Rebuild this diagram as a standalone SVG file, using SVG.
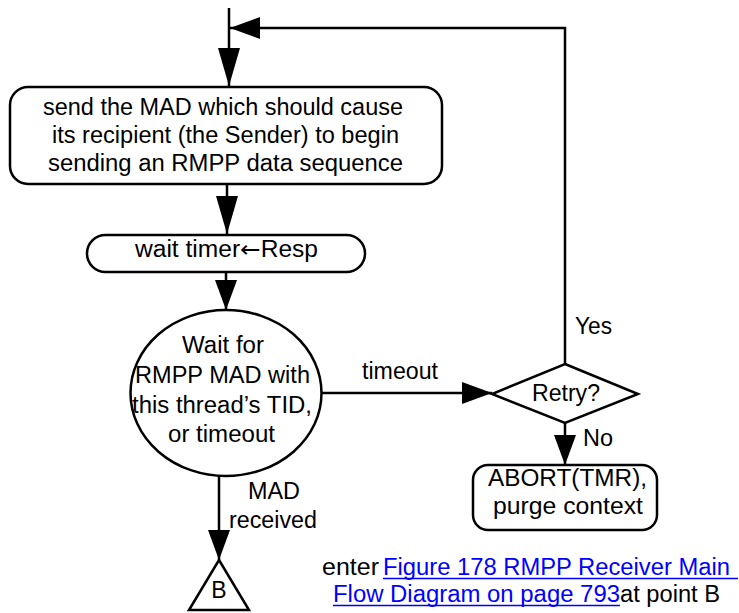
<svg xmlns="http://www.w3.org/2000/svg" width="739" height="613" viewBox="0 0 739 613">
<style>
.shape{fill:#fff;stroke:#000;stroke-width:2.5}
.conn{fill:none;stroke:#000;stroke-width:2.5}
text{font-family:"Liberation Sans",Arial,sans-serif;font-size:23px;fill:#000}
.sym{font-family:"DejaVu Sans",sans-serif}
.link{fill:#0000ff}
.ul{stroke:#0000ff;stroke-width:1.5}
</style>
<defs>
<marker id="ah" viewBox="0 0 30 22" refX="30" refY="11" markerWidth="30" markerHeight="22" markerUnits="userSpaceOnUse" orient="auto">
<path d="M0,0 L30,11 L0,22 z" fill="#000"/>
</marker>
<marker id="ahl" viewBox="0 0 38 22" refX="38" refY="11" markerWidth="38" markerHeight="22" markerUnits="userSpaceOnUse" orient="auto">
<path d="M0,0 L38,11 L0,22 z" fill="#000"/>
</marker>
</defs>
<rect width="739" height="613" fill="#fff"/>
<g id="connectors">
<line class="conn" x1="229" y1="8" x2="229" y2="86" marker-end="url(#ahl)"/>
<polyline class="conn" points="565,364 565,28 230,28" marker-end="url(#ah)"/>
<line class="conn" x1="227" y1="184" x2="227" y2="234" marker-end="url(#ahl)"/>
<line class="conn" x1="226" y1="272" x2="226" y2="310" marker-end="url(#ah)"/>
<line class="conn" x1="321" y1="393" x2="492" y2="393" marker-end="url(#ah)"/>
<line class="conn" x1="565" y1="423" x2="565" y2="465" marker-end="url(#ah)"/>
<line class="conn" x1="219" y1="476" x2="219" y2="560" marker-end="url(#ah)"/>
<text x="362" y="379" textLength="76" lengthAdjust="spacingAndGlyphs">timeout</text>
<text x="575" y="334" textLength="37" lengthAdjust="spacingAndGlyphs">Yes</text>
<text x="583" y="446" textLength="30" lengthAdjust="spacingAndGlyphs">No</text>
<text x="248" y="499" textLength="52" lengthAdjust="spacingAndGlyphs">MAD</text>
<text x="229" y="528" textLength="88" lengthAdjust="spacingAndGlyphs">received</text>
</g>
<g id="send">
<rect class="shape" x="10" y="87" width="432" height="97" rx="18" ry="18"/>
<text x="43" y="115" textLength="360" lengthAdjust="spacingAndGlyphs">send the MAD which should cause</text>
<text x="52" y="143" textLength="347" lengthAdjust="spacingAndGlyphs">its recipient (the Sender) to begin</text>
<text x="48" y="171" textLength="355" lengthAdjust="spacingAndGlyphs">sending an RMPP data sequence</text>
</g>
<g id="wait-timer">
<rect class="shape" x="87" y="235" width="278" height="37" rx="18.5" ry="18.5"/>
<text x="135" y="257" textLength="183" lengthAdjust="spacingAndGlyphs">wait timer<tspan class="sym">←</tspan>Resp</text>
</g>
<g id="wait">
<ellipse class="shape" cx="226" cy="393" rx="95.5" ry="83"/>
<text x="182" y="353" textLength="82" lengthAdjust="spacingAndGlyphs">Wait for</text>
<text x="135" y="383" textLength="175" lengthAdjust="spacingAndGlyphs">RMPP MAD with</text>
<text x="132" y="413" textLength="180" lengthAdjust="spacingAndGlyphs">this thread’s TID,</text>
<text x="168" y="442" textLength="107" lengthAdjust="spacingAndGlyphs">or timeout</text>
</g>
<g id="retry">
<polygon class="shape" points="565,364 638,394 565,423 492,394"/>
<text x="532" y="401" textLength="68" lengthAdjust="spacingAndGlyphs">Retry?</text>
</g>
<g id="abort">
<rect class="shape" x="473" y="465" width="184" height="65" rx="15" ry="15"/>
<text x="488" y="486" textLength="159" lengthAdjust="spacingAndGlyphs">ABORT(TMR),</text>
<text x="493" y="514" textLength="150" lengthAdjust="spacingAndGlyphs">purge context</text>
</g>
<g id="point-b">
<polygon class="shape" points="219,560 249,610 189,610"/>
<text x="219" y="598" text-anchor="middle">B</text>
</g>
<g id="note">
<text x="322" y="575" textLength="57" lengthAdjust="spacingAndGlyphs">enter</text>
<text class="link" x="383" y="575" textLength="347" lengthAdjust="spacingAndGlyphs">Figure 178 RMPP Receiver Main</text>
<line class="ul" x1="383" y1="578.5" x2="738" y2="578.5"/>
<text class="link" x="333" y="602" textLength="287" lengthAdjust="spacingAndGlyphs">Flow Diagram on page 793</text>
<line class="ul" x1="333" y1="605.5" x2="620" y2="605.5"/>
<text x="620" y="602" textLength="100" lengthAdjust="spacingAndGlyphs">at point B</text>
</g>
</svg>
